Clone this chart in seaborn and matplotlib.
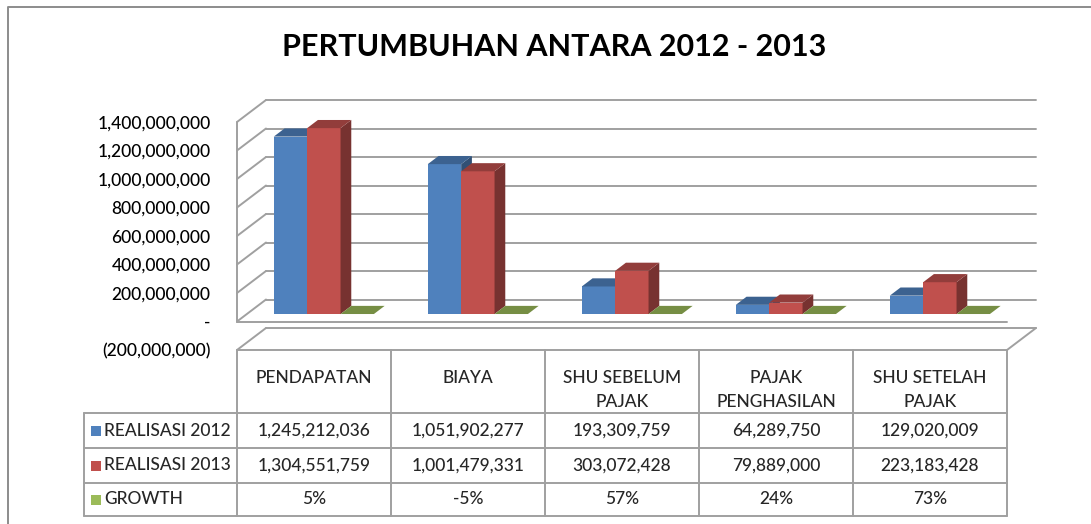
import numpy as np
import pandas as pd
import seaborn as sns
import matplotlib.pyplot as plt
from matplotlib.patches import Polygon, Rectangle
from matplotlib.colors import to_rgb

# data
kategori = ["PENDAPATAN", "BIAYA", "SHU SEBELUM\nPAJAK", "PAJAK\nPENGHASILAN", "SHU SETELAH\nPAJAK"]
seri = ["REALISASI 2012", "REALISASI 2013", "GROWTH"]
realisasi_2012 = [1245212036, 1051902277, 193309759, 64289750, 129020009]
realisasi_2013 = [1304551759, 1001479331, 303072428, 79889000, 223183428]
growth = [0.05, -0.05, 0.57, 0.24, 0.73]
warna = ["#4F81BD", "#C0504D", "#9BBB59"]
yticks = np.arange(-200_000_000, 1_400_000_001, 200_000_000)

df = pd.DataFrame({
    "kategori": kategori * 3,
    "seri": np.repeat(seri, len(kategori)),
    "nilai": realisasi_2012 + realisasi_2013 + growth,
})

sns.set_style("white")
plt.rcParams['font.family'] = ['Lato', 'DejaVu Sans']
plt.rcParams['font.weight'] = 'medium'

W, H = 1091, 524
fig = plt.figure(figsize=(W / 100, H / 100), dpi=100)

# front plane of the chart (pixels)
X0, X1, YT, YB = 237, 1007, 122, 350
ax = fig.add_axes([X0 / W, 1 - YB / H, (X1 - X0) / W, (YB - YT) / H])
sns.barplot(data=df, x="kategori", y="nilai", hue="seri", palette=warna,
            width=0.65, saturation=1, errorbar=None, legend=False,
            linewidth=0, ax=ax)
ax.set_xlim(-0.5, 4.5)
ax.set_ylim(yticks[0], yticks[-1])

# depth of the 3d box, in data units
ncat = len(kategori)
DX = 29 / ((X1 - X0) / ncat)
DY = 22 / ((YB - YT) / (yticks[-1] - yticks[0]))
T0, BD = 0.34, 0.37  # bars start depth, bar depth

gc = "#a0a0a0"
lw = 1.4
for v in yticks:
    ax.plot([-0.5 + DX, 4.5 + DX], [v + DY, v + DY], color=gc, lw=lw, clip_on=False, zorder=1)
    ax.plot([-0.5, -0.5 + DX], [v, v + DY], color=gc, lw=lw, clip_on=False, zorder=1)
ax.plot([-0.5, -0.5], [0, yticks[-1]], color=gc, lw=lw, clip_on=False, zorder=1)
ax.plot([-0.5, 4.5], [0, 0], color=gc, lw=lw, clip_on=False, zorder=1)
ax.plot([4.5, 4.5 + DX], [yticks[0], yticks[0] + DY], color=gc, lw=lw, clip_on=False, zorder=1)

def shade(c, f):
    return tuple(np.array(to_rgb(c)) * f)

# turn the flat bars into 3d columns
for p in sorted(ax.patches, key=lambda p: p.get_x()):
    x, y, w, h = p.get_x(), p.get_y(), p.get_width(), p.get_height()
    x += T0 * DX
    y += T0 * DY
    p.set_x(x)
    p.set_y(y)
    c = p.get_facecolor()
    k = [np.allclose(c[:3], to_rgb(cc), atol=0.01) for cc in warna].index(True)
    z = 3 + k * 0.1
    p.set_zorder(z)
    p.set_clip_on(False)
    ex, ey = BD * DX, BD * DY
    side = Polygon([(x + w, y), (x + w, y + h), (x + w + ex, y + h + ey), (x + w + ex, y + ey)],
                   closed=True, fc=shade(c, 0.62), ec="none", zorder=z + 0.01, clip_on=False)
    top = Polygon([(x, y + h), (x + w, y + h), (x + w + ex, y + h + ey), (x + ex, y + h + ey)],
                  closed=True, fc=shade(c, 0.76), ec="none", zorder=z + 0.02, clip_on=False)
    ax.add_patch(side)
    ax.add_patch(top)

def fmt(v):
    if v == 0:
        return "-"
    if v < 0:
        return f"({-v:,.0f})"
    return f"{v:,.0f}"

ax.set_yticks(yticks)
ax.set_yticklabels([fmt(v) for v in yticks])
ax.tick_params(axis="y", length=0, pad=19, labelsize=12.5, labelcolor="black")
ax.tick_params(axis="x", length=0, labelbottom=False)
ax.set_xlabel("")
ax.set_ylabel("")
ax.grid(False)
for s in ax.spines.values():
    s.set_visible(False)
ax.patch.set_alpha(0)

# overlay in pixel space for frame, title and data table
ov = fig.add_axes([0, 0, 1, 1], zorder=-1)
ov.set_xlim(0, W)
ov.set_ylim(H, 0)
ov.axis("off")

ov.plot([8, 8, W], [H, 7, 7], color="#8c8c8c", lw=1.4)
ov.text(554, 47, "PERTUMBUHAN ANTARA 2012 - 2013", ha="center", va="center",
        fontsize=22, fontweight="bold", color="black")

tc = "#a0a0a0"
cols = np.linspace(X0, X1, ncat + 1)
rows = [350, 413, 448, 483, 516]
TL = 84
ov.plot([X0, X1], [rows[0], rows[0]], color=tc, lw=lw)
for r in rows[1:]:
    ov.plot([TL, X1], [r, r], color=tc, lw=lw)
for c in cols:
    ov.plot([c, c], [rows[0], rows[-1]], color=tc, lw=lw)
ov.plot([TL, TL], [rows[1], rows[-1]], color=tc, lw=lw)

fs = 12.5
centers = (cols[:-1] + cols[1:]) / 2
for cx, lab in zip(centers, kategori):
    for i, line in enumerate(lab.split("\n")):
        ov.text(cx, 378 + 24 * i, line, ha="center", va="center", fontsize=fs)

nilai_tabel = [
    [f"{v:,}" for v in realisasi_2012],
    [f"{v:,}" for v in realisasi_2013],
    [f"{g:.0%}" for g in growth],
]
for i, (nama, baris) in enumerate(zip(seri, nilai_tabel)):
    cy = (rows[i + 1] + rows[i + 2]) / 2
    ov.add_patch(Rectangle((91, cy - 5), 10, 10, fc=warna[i], ec="none"))
    ov.text(104, cy, nama, ha="left", va="center", fontsize=fs)
    for cx, t in zip(centers, baris):
        ov.text(cx, cy, t, ha="center", va="center", fontsize=fs)

fig.savefig("out.png", dpi=100)
